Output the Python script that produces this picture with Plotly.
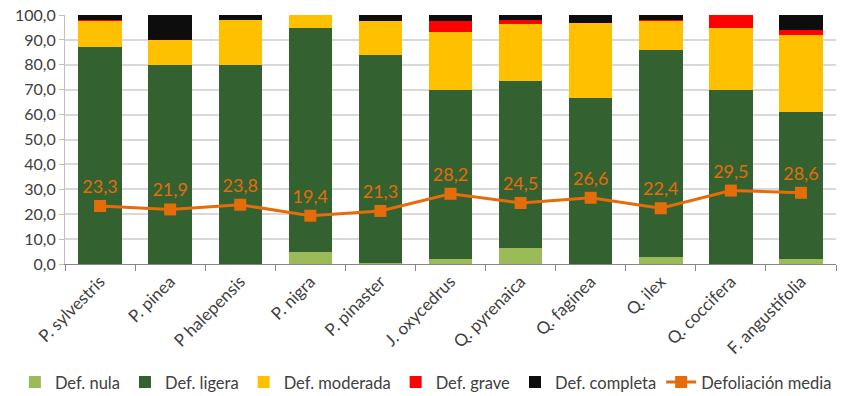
import plotly.graph_objects as go

species = ["P. sylvestris", "P. pinea", "P halepensis", "P. nigra", "P. pinaster",
           "J. oxycedrus", "Q. pyrenaica", "Q. faginea", "Q. ilex", "Q. coccifera",
           "F. angustifolia"]
def_nula = [0.0, 0.0, 0.0, 4.8, 0.5, 2.0, 6.4, 0.0, 2.8, 0.0, 2.0]
def_ligera = [87.0, 79.8, 79.8, 90.0, 83.5, 67.9, 66.9, 66.6, 83.2, 69.9, 59.0]
def_moderada = [10.6, 10.3, 18.3, 5.2, 13.7, 23.1, 23.1, 30.2, 11.9, 24.9, 31.0]
def_grave = [0.3, 0.0, 0.0, 0.0, 0.0, 4.7, 1.7, 0.0, 0.2, 5.2, 2.1]
def_completa = [2.1, 9.9, 1.9, 0.0, 2.3, 2.3, 1.9, 3.2, 1.9, 0.0, 5.9]
defol_media = [23.3, 21.9, 23.8, 19.4, 21.3, 28.2, 24.5, 26.6, 22.4, 29.5, 28.6]

FONT = "Lato"
fig = go.Figure()
series = [
    ("Def. nula", def_nula, "#9BBB59"),
    ("Def. ligera", def_ligera, "#336230"),
    ("Def. moderada", def_moderada, "#FFC000"),
    ("Def. grave", def_grave, "#FF0000"),
    ("Def. completa", def_completa, "#0D0D0D"),
]
for name, vals, col in series:
    fig.add_trace(go.Bar(x=species, y=vals, name=name, marker_color=col,
                         marker_line_width=0))

fig.add_trace(go.Scatter(
    x=species, y=defol_media, name="Defoliación media", mode="lines+markers+text",
    line=dict(color="#E46C0A", width=3),
    marker=dict(symbol="square", size=12, color="#E46C0A"),
    text=[f"{v:.1f}".replace(".", ",") for v in defol_media],
    textposition="top center",
    textfont=dict(color="#E46C0A", size=18, family=FONT),
))

fig.update_layout(
    barmode="stack", bargap=0.38,
    width=842, height=396,
    margin=dict(l=65, r=6, t=15, b=132, autoexpand=False),
    plot_bgcolor="white", paper_bgcolor="white",
    separators=",.",
    font=dict(family=FONT, color="#404040", size=15),
    legend=dict(orientation="h", x=-0.065, xanchor="left", y=-0.405, yanchor="top",
                font=dict(size=16.5, family=FONT, color="#404040"),
                traceorder="normal", itemwidth=30, tracegroupgap=0),
    xaxis=dict(range=[-0.5, 10.5], showgrid=False, showline=True, linecolor="#868686",
               ticks="outside", tickson="boundaries", ticklen=6, tickcolor="#868686",
               automargin=False,
               tickangle=-45, tickfont=dict(size=17, family=FONT, color="#404040")),
    yaxis=dict(range=[0, 100], dtick=10, tickformat=".1f", showgrid=True,
               gridcolor="#D9D9D9", gridwidth=1.5, zeroline=False, automargin=False,
               showline=True, linecolor="#BFBFBF", ticks="outside", ticklen=5,
               tickcolor="#BFBFBF",
               tickfont=dict(size=16, family=FONT, color="#404040")),
)
fig.write_html("out.html", config={"displayModeBar": False},
               post_script="document.body.style.margin='0';document.body.style.overflow='hidden';")
